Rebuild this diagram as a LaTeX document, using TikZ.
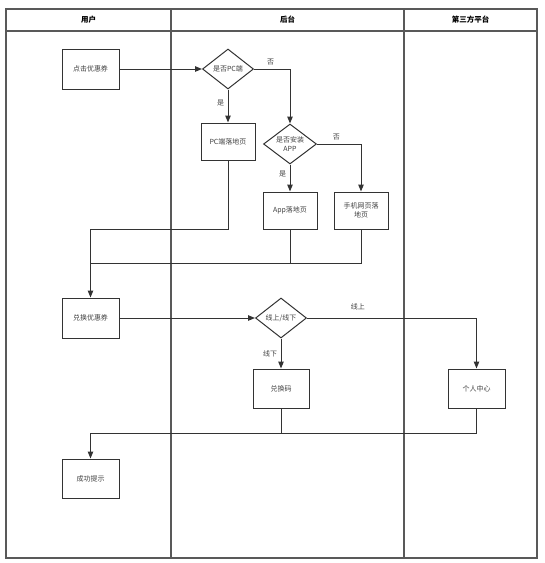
\documentclass[tikz,border=0pt]{standalone}
\usepackage{fontspec}
\setmainfont{Noto Sans CJK SC}
\usetikzlibrary{shapes.geometric,arrows.meta}

\begin{document}
\begin{tikzpicture}[x=1pt,y=-1pt,>={Triangle[length=7pt,width=5.5pt]},
  lane/.style={draw=black!65,line width=1.4pt},
  box/.style={draw=black!80,line width=1pt,minimum width=57pt,minimum height=40pt,
    inner sep=1pt,align=center,text=black!75,font=\fontsize{7}{8.5}\selectfont},
  small/.style={minimum width=54pt,minimum height=37pt},
  decide/.style={diamond,draw=black!80,line width=1pt,inner sep=0pt,aspect=1.25,
    minimum width=51pt,minimum height=40pt,align=center,text=black!75,
    font=\fontsize{7}{8.5}\selectfont},
  lbl/.style={text=black!75,font=\fontsize{7}{8.5}\selectfont},
  flow/.style={draw=black!80,line width=1pt}]
\useasboundingbox (0,0) rectangle (545,563);
% swimlanes
\draw[lane] (6,9) rectangle (537,558);
\draw[lane] (6,31) -- (537,31);
\draw[lane] (171,9) -- (171,558);
\draw[lane] (404,9) -- (404,558);
\node[font=\fontsize{7.5}{9}\selectfont\bfseries] (hUser) at (88.5,20) {用户};
\node[font=\fontsize{7.5}{9}\selectfont\bfseries] (hBack) at (287.5,20) {后台};
\node[font=\fontsize{7.5}{9}\selectfont\bfseries] (hThird) at (470.5,20) {第三方平台};
% steps
\node[box] (click) at (90.5,69) {点击优惠券};
\node[decide] (isPC) at (228,69) {是否PC端};
\node[box,small] (pcPage) at (228,141.5) {PC端落地页};
\node[decide,minimum width=53pt] (isApp) at (290,144) {是否安装\\APP};
\node[box,small] (appPage) at (290,210.5) {App落地页};
\node[box,small] (webPage) at (361,210.5) {手机网页落\\地页};
\node[box] (exch) at (90.5,318) {兑换优惠券};
\node[decide] (onOff) at (281,318) {线上/线下};
\node[box,minimum width=56pt,minimum height=39pt] (code) at (281,388.5) {兑换码};
\node[box,minimum height=39pt] (center) at (476.5,388.5) {个人中心};
\node[box,minimum height=39pt] (done) at (90.5,478.5) {成功提示};
\coordinate (joinA) at (90.5,229);
\coordinate (joinB) at (90.5,263);
\coordinate (joinC) at (90.5,433);
% connectors
\draw[flow,->] (click) -- (isPC);
\draw[flow,->] (isPC) -| node[lbl,pos=.23,above] {否} (isApp);
\draw[flow,->] (isPC) -- node[lbl,left,pos=.4] {是} (pcPage);
\draw[flow,->] (isApp) -| node[lbl,pos=.22,above] {否} (webPage);
\draw[flow,->] (isApp) -- node[lbl,left,pos=.35] {是} (appPage);
\draw[flow,->] (pcPage) |- (joinA) -- (exch);
\draw[flow] (appPage) |- (joinB);
\draw[flow] (webPage) |- (joinB);
\draw[flow,->] (exch) -- (onOff);
\draw[flow,->] (onOff) -| node[lbl,pos=.15,above=4pt] {线上} (center);
\draw[flow,->] (onOff) -- node[lbl,left,pos=.5] {线下} (code);
\draw[flow,->] (code) |- (joinC) -- (done);
\draw[flow] (center) |- (joinC);
\end{tikzpicture}
\end{document}
